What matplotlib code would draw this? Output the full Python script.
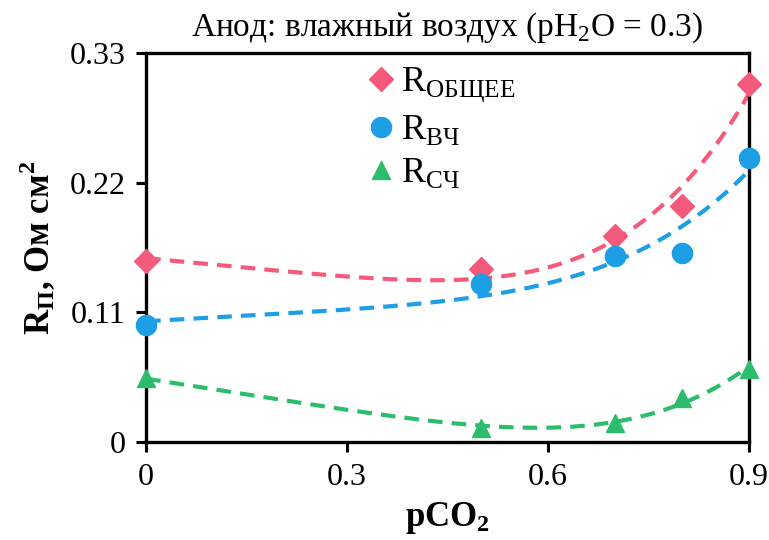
import numpy as np
import matplotlib
matplotlib.use("Agg")
import matplotlib.pyplot as plt

plt.rcParams['font.family'] = ['Liberation Serif', 'DejaVu Serif']
plt.rcParams['mathtext.fontset'] = 'custom'
plt.rcParams['mathtext.rm'] = 'Liberation Serif'
plt.rcParams['mathtext.bf'] = 'Liberation Serif:bold'

# pCO2 values and polarisation resistances, Ohm cm^2
p_co2 = [0.0, 0.5, 0.7, 0.8, 0.9]
r_total = [0.1535, 0.1467, 0.1747, 0.2002, 0.3036]
r_hf = [0.0992, 0.1340, 0.1580, 0.1600, 0.2410]
r_mf = [0.0543, 0.0119, 0.0160, 0.0373, 0.0620]

series = [
    (r_total, "D", "#f45a7c", r"R$_\mathregular{ОБЩЕЕ}$", 12),
    (r_hf, "o", "#1c9fe4", r"R$_\mathregular{ВЧ}$", 14.5),
    (r_mf, "^", "#2cbd6c", r"R$_\mathregular{СЧ}$", 13),
]


def trend(x, y, xs):
    # least-squares fit y = a + b*x + c*x^5
    x = np.asarray(x)
    A = np.column_stack([np.ones_like(x), x, x**5])
    a, b, c = np.linalg.lstsq(A, np.asarray(y), rcond=None)[0]
    return a + b * xs + c * xs**5


fig = plt.figure(figsize=(7.69, 5.40), dpi=100)
ax = fig.add_axes([0.19, 0.1815, 0.784, 0.7205])

xs = np.linspace(0, 0.9, 200)
for vals, marker, color, label, ms in series:
    ax.plot(xs, trend(p_co2, vals, xs), ls=(0, (3.5, 2.2)), lw=3, color=color)
    ax.plot(p_co2, vals, ls="none", marker=marker, ms=ms, color=color,
            label=label, clip_on=False, zorder=3)

ax.set_xlim(0, 0.9)
ax.set_ylim(0, 0.33)
ax.set_xticks([0, 0.3, 0.6, 0.9])
ax.set_xticklabels(["0", "0.3", "0.6", "0.9"])
ax.set_yticks([0, 0.11, 0.22, 0.33])
ax.set_yticklabels(["0", "0.11", "0.22", "0.33"])
ax.tick_params(direction="out", length=7, width=2.2, labelsize=23, pad=8)
for s in ax.spines.values():
    s.set_linewidth(2.4)

ax.set_xlabel(r"$\mathbf{pCO_2}$", fontsize=25, labelpad=6)
ax.set_ylabel(r"$\mathbf{R_П}$, Ом см$^\mathbf{2}$", fontsize=25,
              fontweight="bold", labelpad=8)
ax.set_title(r"Анод: влажный воздух (pH$_\mathregular{2}$O = 0.3)",
             fontsize=24, pad=12)

ax.legend(loc="upper left", bbox_to_anchor=(0.318, 1.032), frameon=False,
          fontsize=26, handletextpad=0.05, labelspacing=0.25,
          handlelength=1.0, borderpad=0.2)

fig.savefig("out.png", dpi=100)
